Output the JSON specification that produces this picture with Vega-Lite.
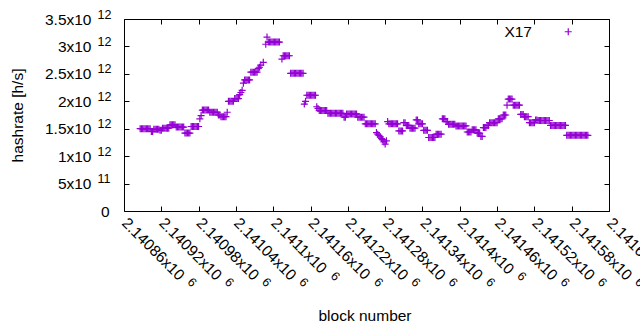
{
"$schema":"https://vega.github.io/schema/vega-lite/v6.json",
"width":485,"height":192,
"autosize":"none",
"padding":{"left":124,"top":19,"right":31,"bottom":119},
"background":"white",
"config":{
 "view":{"stroke":"black","strokeWidth":1},
 "font":"Liberation Sans",
 "axis":{"domain":false,"grid":false,"tickColor":"black","tickWidth":1,"labelColor":"black","labelFont":"Liberation Sans","labelFontSize":15.5,"titleFont":"Liberation Sans","titleFontSize":15.5,"titleColor":"black","titleFontWeight":"normal","labelFlush":false,"labelOverlap":false,"labelBound":false}
},
"data":{"values":[
{"b":2140886,"h":1.5e12},{"b":2140888,"h":1.5e12},{"b":2140890,"h":1.5e12},{"b":2140892,"h":1.5e12},{"b":2140894,"h":1.5e12},{"b":2140896,"h":1.5e12},{"b":2140898,"h":1.5e12},{"b":2140900,"h":1.5e12},{"b":2140902,"h":1.5e12},
{"b":2140904,"h":1.45e12},{"b":2140906,"h":1.45e12},
{"b":2140908,"h":1.49e12},{"b":2140910,"h":1.49e12},{"b":2140912,"h":1.49e12},{"b":2140914,"h":1.49e12},{"b":2140916,"h":1.49e12},
{"b":2140918,"h":1.47e12},{"b":2140920,"h":1.47e12},
{"b":2140922,"h":1.51e12},{"b":2140924,"h":1.51e12},{"b":2140926,"h":1.51e12},{"b":2140928,"h":1.51e12},{"b":2140930,"h":1.51e12},{"b":2140932,"h":1.51e12},
{"b":2140934,"h":1.57e12},{"b":2140936,"h":1.57e12},{"b":2140938,"h":1.57e12},{"b":2140940,"h":1.57e12},{"b":2140942,"h":1.57e12},
{"b":2140944,"h":1.53e12},{"b":2140946,"h":1.53e12},{"b":2140948,"h":1.53e12},{"b":2140950,"h":1.53e12},{"b":2140952,"h":1.53e12},{"b":2140954,"h":1.53e12},{"b":2140956,"h":1.53e12},
{"b":2140958,"h":1.42e12},{"b":2140960,"h":1.42e12},{"b":2140962,"h":1.42e12},{"b":2140964,"h":1.42e12},{"b":2140966,"h":1.42e12},
{"b":2140968,"h":1.54e12},{"b":2140970,"h":1.54e12},{"b":2140972,"h":1.54e12},{"b":2140974,"h":1.54e12},{"b":2140976,"h":1.54e12},{"b":2140978,"h":1.54e12},{"b":2140980,"h":1.54e12},
{"b":2140982,"h":1.68e12},{"b":2140984,"h":1.74e12},
{"b":2140986,"h":1.84e12},{"b":2140988,"h":1.84e12},{"b":2140990,"h":1.84e12},{"b":2140992,"h":1.84e12},{"b":2140994,"h":1.84e12},{"b":2140996,"h":1.84e12},
{"b":2140998,"h":1.8e12},{"b":2141000,"h":1.8e12},{"b":2141002,"h":1.8e12},{"b":2141004,"h":1.8e12},{"b":2141006,"h":1.8e12},{"b":2141008,"h":1.8e12},{"b":2141010,"h":1.8e12},
{"b":2141012,"h":1.75e12},{"b":2141014,"h":1.75e12},
{"b":2141016,"h":1.72e12},{"b":2141018,"h":1.72e12},{"b":2141020,"h":1.72e12},{"b":2141022,"h":1.72e12},{"b":2141024,"h":1.72e12},
{"b":2141026,"h":1.8e12},
{"b":2141028,"h":2e12},{"b":2141030,"h":2e12},{"b":2141032,"h":2e12},{"b":2141034,"h":2e12},{"b":2141036,"h":2e12},
{"b":2141038,"h":2.05e12},{"b":2141040,"h":2.05e12},{"b":2141042,"h":2.05e12},{"b":2141044,"h":2.05e12},
{"b":2141046,"h":2.12e12},{"b":2141048,"h":2.16e12},{"b":2141050,"h":2.2e12},
{"b":2141052,"h":2.33e12},
{"b":2141054,"h":2.39e12},{"b":2141056,"h":2.39e12},{"b":2141058,"h":2.39e12},{"b":2141060,"h":2.39e12},{"b":2141062,"h":2.39e12},
{"b":2141064,"h":2.53e12},{"b":2141066,"h":2.53e12},{"b":2141068,"h":2.53e12},{"b":2141070,"h":2.53e12},{"b":2141072,"h":2.53e12},{"b":2141074,"h":2.53e12},
{"b":2141076,"h":2.6e12},{"b":2141078,"h":2.62e12},{"b":2141080,"h":2.66e12},{"b":2141084,"h":2.71e12},
{"b":2141088,"h":3.04e12},{"b":2141090,"h":3.17e12},
{"b":2141092,"h":3.08e12},{"b":2141094,"h":3.08e12},{"b":2141096,"h":3.08e12},{"b":2141098,"h":3.08e12},{"b":2141100,"h":3.08e12},{"b":2141102,"h":3.08e12},{"b":2141104,"h":3.08e12},{"b":2141106,"h":3.08e12},{"b":2141108,"h":3.08e12},{"b":2141110,"h":3.08e12},
{"b":2141114,"h":2.77e12},
{"b":2141116,"h":2.83e12},{"b":2141118,"h":2.83e12},{"b":2141120,"h":2.83e12},{"b":2141122,"h":2.83e12},{"b":2141124,"h":2.83e12},{"b":2141126,"h":2.83e12},
{"b":2141128,"h":2.51e12},{"b":2141130,"h":2.51e12},{"b":2141132,"h":2.51e12},{"b":2141134,"h":2.51e12},{"b":2141136,"h":2.51e12},{"b":2141138,"h":2.51e12},{"b":2141140,"h":2.51e12},{"b":2141142,"h":2.51e12},{"b":2141144,"h":2.51e12},{"b":2141146,"h":2.51e12},{"b":2141148,"h":2.51e12},
{"b":2141150,"h":1.95e12},{"b":2141152,"h":2e12},
{"b":2141154,"h":2.11e12},{"b":2141156,"h":2.11e12},{"b":2141158,"h":2.11e12},{"b":2141160,"h":2.11e12},{"b":2141162,"h":2.11e12},{"b":2141164,"h":2.11e12},{"b":2141166,"h":2.11e12},{"b":2141168,"h":2.11e12},
{"b":2141170,"h":1.9e12},{"b":2141172,"h":1.87e12},
{"b":2141174,"h":1.83e12},{"b":2141176,"h":1.83e12},{"b":2141178,"h":1.83e12},{"b":2141180,"h":1.83e12},{"b":2141182,"h":1.83e12},{"b":2141184,"h":1.83e12},{"b":2141186,"h":1.83e12},
{"b":2141188,"h":1.78e12},{"b":2141190,"h":1.78e12},{"b":2141192,"h":1.78e12},{"b":2141194,"h":1.78e12},{"b":2141196,"h":1.78e12},{"b":2141198,"h":1.78e12},{"b":2141200,"h":1.78e12},{"b":2141202,"h":1.78e12},{"b":2141204,"h":1.78e12},{"b":2141206,"h":1.78e12},{"b":2141208,"h":1.78e12},{"b":2141210,"h":1.78e12},{"b":2141212,"h":1.78e12},
{"b":2141214,"h":1.71e12},{"b":2141216,"h":1.71e12},
{"b":2141218,"h":1.77e12},{"b":2141220,"h":1.77e12},{"b":2141222,"h":1.77e12},{"b":2141224,"h":1.77e12},{"b":2141226,"h":1.77e12},{"b":2141228,"h":1.77e12},{"b":2141230,"h":1.77e12},{"b":2141232,"h":1.77e12},{"b":2141234,"h":1.77e12},
{"b":2141236,"h":1.71e12},{"b":2141238,"h":1.71e12},{"b":2141240,"h":1.71e12},{"b":2141242,"h":1.71e12},{"b":2141244,"h":1.71e12},{"b":2141246,"h":1.71e12},
{"b":2141248,"h":1.59e12},{"b":2141250,"h":1.59e12},{"b":2141252,"h":1.59e12},{"b":2141254,"h":1.59e12},{"b":2141256,"h":1.59e12},{"b":2141258,"h":1.59e12},{"b":2141260,"h":1.59e12},{"b":2141262,"h":1.59e12},{"b":2141264,"h":1.59e12},
{"b":2141266,"h":1.43e12},{"b":2141268,"h":1.4e12},{"b":2141270,"h":1.38e12},{"b":2141272,"h":1.35e12},{"b":2141274,"h":1.32e12},{"b":2141276,"h":1.3e12},{"b":2141278,"h":1.26e12},{"b":2141280,"h":1.22e12},{"b":2141282,"h":1.28e12},
{"b":2141284,"h":1.63e12},
{"b":2141286,"h":1.59e12},{"b":2141288,"h":1.59e12},{"b":2141290,"h":1.59e12},{"b":2141292,"h":1.59e12},{"b":2141294,"h":1.59e12},{"b":2141296,"h":1.59e12},{"b":2141298,"h":1.59e12},{"b":2141300,"h":1.59e12},
{"b":2141302,"h":1.46e12},{"b":2141304,"h":1.46e12},{"b":2141306,"h":1.46e12},{"b":2141308,"h":1.46e12},
{"b":2141310,"h":1.61e12},{"b":2141312,"h":1.61e12},
{"b":2141314,"h":1.56e12},{"b":2141316,"h":1.56e12},{"b":2141318,"h":1.56e12},
{"b":2141320,"h":1.51e12},{"b":2141322,"h":1.51e12},{"b":2141324,"h":1.51e12},{"b":2141326,"h":1.51e12},{"b":2141328,"h":1.51e12},
{"b":2141330,"h":1.66e12},{"b":2141332,"h":1.66e12},
{"b":2141334,"h":1.59e12},{"b":2141336,"h":1.59e12},{"b":2141338,"h":1.59e12},{"b":2141340,"h":1.59e12},
{"b":2141342,"h":1.47e12},{"b":2141344,"h":1.47e12},{"b":2141346,"h":1.47e12},{"b":2141348,"h":1.47e12},
{"b":2141350,"h":1.34e12},{"b":2141352,"h":1.34e12},{"b":2141354,"h":1.34e12},{"b":2141356,"h":1.34e12},{"b":2141358,"h":1.34e12},{"b":2141360,"h":1.34e12},
{"b":2141362,"h":1.4e12},{"b":2141364,"h":1.4e12},{"b":2141366,"h":1.4e12},{"b":2141368,"h":1.4e12},{"b":2141370,"h":1.4e12},
{"b":2141372,"h":1.68e12},{"b":2141374,"h":1.68e12},{"b":2141376,"h":1.68e12},
{"b":2141378,"h":1.63e12},{"b":2141380,"h":1.63e12},
{"b":2141382,"h":1.58e12},{"b":2141384,"h":1.58e12},{"b":2141386,"h":1.58e12},{"b":2141388,"h":1.58e12},{"b":2141390,"h":1.58e12},{"b":2141392,"h":1.58e12},
{"b":2141394,"h":1.55e12},{"b":2141396,"h":1.55e12},{"b":2141398,"h":1.55e12},{"b":2141400,"h":1.55e12},{"b":2141402,"h":1.55e12},{"b":2141404,"h":1.55e12},{"b":2141406,"h":1.55e12},{"b":2141408,"h":1.55e12},{"b":2141410,"h":1.55e12},
{"b":2141412,"h":1.44e12},{"b":2141414,"h":1.44e12},{"b":2141416,"h":1.44e12},{"b":2141418,"h":1.44e12},
{"b":2141420,"h":1.48e12},{"b":2141422,"h":1.48e12},{"b":2141424,"h":1.48e12},{"b":2141426,"h":1.48e12},
{"b":2141428,"h":1.42e12},{"b":2141430,"h":1.42e12},{"b":2141432,"h":1.42e12},
{"b":2141434,"h":1.36e12},{"b":2141436,"h":1.36e12},
{"b":2141438,"h":1.52e12},{"b":2141440,"h":1.52e12},{"b":2141442,"h":1.52e12},
{"b":2141444,"h":1.56e12},{"b":2141446,"h":1.56e12},
{"b":2141448,"h":1.61e12},{"b":2141450,"h":1.61e12},{"b":2141452,"h":1.61e12},{"b":2141454,"h":1.61e12},{"b":2141456,"h":1.61e12},{"b":2141458,"h":1.61e12},{"b":2141460,"h":1.61e12},
{"b":2141462,"h":1.68e12},{"b":2141464,"h":1.68e12},{"b":2141466,"h":1.68e12},{"b":2141468,"h":1.68e12},
{"b":2141470,"h":1.75e12},{"b":2141472,"h":1.75e12},{"b":2141474,"h":1.75e12},
{"b":2141476,"h":1.93e12},
{"b":2141478,"h":2.04e12},{"b":2141480,"h":2.04e12},{"b":2141482,"h":2.04e12},{"b":2141484,"h":2.04e12},
{"b":2141486,"h":1.93e12},{"b":2141488,"h":1.93e12},{"b":2141490,"h":1.93e12},{"b":2141492,"h":1.93e12},{"b":2141494,"h":1.93e12},{"b":2141496,"h":1.93e12},
{"b":2141498,"h":1.76e12},{"b":2141500,"h":1.76e12},{"b":2141502,"h":1.76e12},
{"b":2141504,"h":1.72e12},{"b":2141506,"h":1.72e12},{"b":2141508,"h":1.72e12},{"b":2141510,"h":1.72e12},
{"b":2141512,"h":1.61e12},{"b":2141514,"h":1.61e12},{"b":2141516,"h":1.61e12},{"b":2141518,"h":1.61e12},{"b":2141520,"h":1.61e12},
{"b":2141522,"h":1.66e12},{"b":2141524,"h":1.66e12},
{"b":2141526,"h":1.65e12},{"b":2141528,"h":1.65e12},{"b":2141530,"h":1.65e12},{"b":2141532,"h":1.65e12},{"b":2141534,"h":1.65e12},{"b":2141536,"h":1.65e12},{"b":2141538,"h":1.65e12},{"b":2141540,"h":1.65e12},{"b":2141542,"h":1.65e12},{"b":2141544,"h":1.65e12},
{"b":2141546,"h":1.56e12},{"b":2141548,"h":1.56e12},{"b":2141550,"h":1.56e12},{"b":2141552,"h":1.56e12},{"b":2141554,"h":1.56e12},{"b":2141556,"h":1.56e12},{"b":2141558,"h":1.56e12},{"b":2141560,"h":1.56e12},{"b":2141562,"h":1.56e12},{"b":2141564,"h":1.56e12},{"b":2141566,"h":1.56e12},{"b":2141568,"h":1.56e12},{"b":2141570,"h":1.56e12},
{"b":2141572,"h":1.38e12},{"b":2141574,"h":1.38e12},{"b":2141576,"h":1.38e12},{"b":2141578,"h":1.38e12},{"b":2141580,"h":1.38e12},{"b":2141582,"h":1.38e12},{"b":2141584,"h":1.38e12},{"b":2141586,"h":1.38e12},{"b":2141588,"h":1.38e12},{"b":2141590,"h":1.38e12},{"b":2141592,"h":1.38e12},{"b":2141594,"h":1.38e12},{"b":2141596,"h":1.38e12},{"b":2141598,"h":1.38e12},{"b":2141600,"h":1.38e12},{"b":2141602,"h":1.38e12},{"b":2141604,"h":1.38e12},{"b":2141606,"h":1.38e12}
]},
"layer":[
 {
  "mark":{"type":"point","shape":"M-1,0L1,0M0,-1L0,1","filled":false,"size":49,"strokeWidth":1.2,"opacity":1},
  "encoding":{
   "x":{"field":"b","type":"quantitative","scale":{"domain":[2140860,2141640],"nice":false,"zero":false},
    "axis":{"orient":"bottom","values":[2140860,2140920,2140980,2141040,2141100,2141160,2141220,2141280,2141340,2141400,2141460,2141520,2141580,2141640],
     "labelExpr":"format(datum.value/1e6,'.5~f')+'x10'","labelAngle":45,"labelAlign":"left","labelBaseline":"middle","labelPadding":9,"ticks":false,"tickSize":0,
     "title":"block number","titleX":240.5,"titleY":104,"titleBaseline":"middle","titleAlign":"center"}},
   "y":{"field":"h","type":"quantitative","scale":{"domain":[0,3.5e12],"nice":false,"zero":true},
    "axis":{"orient":"left","values":[0,5e11,1e12,1.5e12,2e12,2.5e12,3e12,3.5e12],
     "labelExpr":"datum.value == 0 ? '0' : (datum.value < 1e12 ? format(datum.value/1e11,'~g') : format(datum.value/1e12,'~g')) + 'x10'",
     "labelAlign":"right","labelBaseline":"middle","labelPadding":{"condition":{"test":"datum.value == 0","value":15},"value":33},"ticks":false,"tickSize":0,
     "title":"hashrate [h/s]","titleX":-107,"titleY":96,"titleBaseline":"middle","titleAngle":-90,"titleAlign":"center"}},
   "color":{"datum":"X17","type":"nominal","scale":{"range":["#9400d3"]},
    "legend":{"title":null,"orient":"none","legendX":436.5,"legendY":5,"padding":0,"labelAlign":"right","labelOffset":-44,"labelFontSize":15.5,"labelFont":"Liberation Sans","labelColor":"black","symbolSize":49,"symbolStrokeWidth":1.2}}
  }
 },
 {
  "mark":{"type":"point","opacity":0},
  "encoding":{
   "x":{"field":"b","type":"quantitative",
    "axis":{"orient":"bottom","values":[2140860,2140920,2140980,2141040,2141100,2141160,2141220,2141280,2141340,2141400,2141460,2141520,2141580,2141640],
     "labelExpr":"'6'","labelFontSize":12.5,"labelAngle":45,"labelAlign":"left","labelBaseline":"middle","ticks":false,"tickSize":0,
     "labelPadding":{"condition":{"test":"datum.value == 2141100 || datum.value == 2141400","value":62.3},"value":68.4},
     "labelOffset":{"condition":{"test":"datum.value == 2141100 || datum.value == 2141400","value":59},"value":65},
     "title":null}},
   "y":{"field":"h","type":"quantitative",
    "axis":{"orient":"left","values":[5e11,1e12,1.5e12,2e12,2.5e12,3e12,3.5e12],
     "labelExpr":"datum.value < 1e12 ? '11' : '12'","labelFontSize":12.5,"labelAlign":"left","labelBaseline":"middle","labelPadding":27,"labelOffset":-5,"ticks":false,"tickSize":0,"title":null}}
  }
 },
 {
  "mark":{"type":"point","opacity":0},
  "encoding":{
   "x":{"field":"b","type":"quantitative",
    "axis":{"orient":"top","values":[2140860,2140920,2140980,2141040,2141100,2141160,2141220,2141280,2141340,2141400,2141460,2141520,2141580,2141640],"labels":false,"tickSize":-5,"title":null}},
   "y":{"field":"h","type":"quantitative",
    "axis":{"orient":"right","values":[0,5e11,1e12,1.5e12,2e12,2.5e12,3e12,3.5e12],"labels":false,"tickSize":-5,"title":null}}
  }
 },
 {
  "mark":{"type":"point","opacity":0},
  "encoding":{
   "x":{"field":"b","type":"quantitative",
    "axis":{"orient":"bottom","values":[2140860,2140920,2140980,2141040,2141100,2141160,2141220,2141280,2141340,2141400,2141460,2141520,2141580,2141640],"labels":false,"tickSize":-5,"title":null}},
   "y":{"field":"h","type":"quantitative",
    "axis":{"orient":"left","values":[0,5e11,1e12,1.5e12,2e12,2.5e12,3e12,3.5e12],"labels":false,"tickSize":-5,"title":null}}
  }
 }
],
"resolve":{"axis":{"x":"independent","y":"independent"}}
}
